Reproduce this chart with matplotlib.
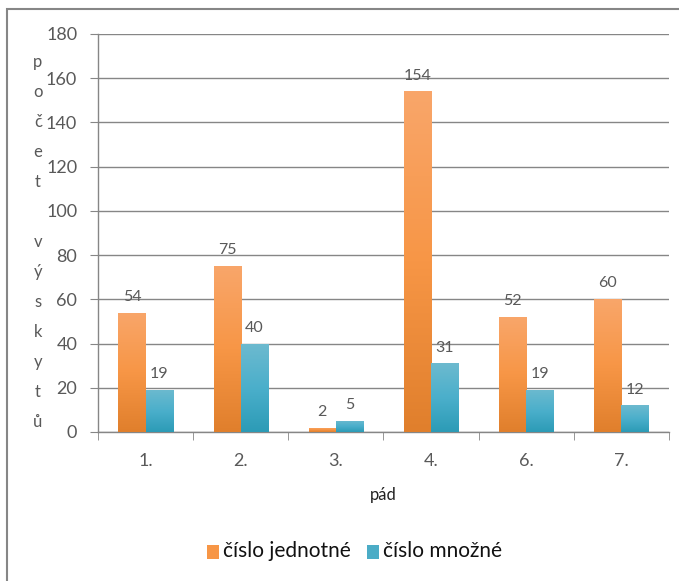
import numpy as np
import matplotlib
matplotlib.use("Agg")
import matplotlib.pyplot as plt
from matplotlib.patches import Rectangle
from matplotlib.colors import LinearSegmentedColormap

categories = ["1.", "2.", "3.", "4.", "6.", "7."]
singular = [54, 75, 2, 154, 52, 60]
plural = [19, 40, 5, 31, 19, 12]
series_names = ["číslo jednotné", "číslo množné"]
ylabel_letters = ["p", "o", "č", "e", "t", "", "v", "ý", "s", "k", "y", "t", "ů"]
xlabel = "pád"

plt.rcParams["font.family"] = ["Lato", "DejaVu Sans"]

W, H = 679, 581
fig = plt.figure(figsize=(W / 100, H / 100), dpi=100)
fig.patch.set_facecolor("white")

def fx(px):
    return px / W

def fy(py):
    return 1 - py / H

left, right, top, bottom = 98, 669, 34, 432
ax = fig.add_axes([fx(left), fy(bottom), fx(right - left), (bottom - top) / H])

gray = "#868686"
txt = "#595959"

x = np.arange(len(categories))
bw = 0.285
cm_or = LinearSegmentedColormap.from_list("o", ["#E07F2C", "#F79646", "#F9A66A"])
cm_te = LinearSegmentedColormap.from_list("t", ["#2C9BB6", "#4BAFCB", "#6DBACF"])

grad = np.linspace(0, 1, 256).reshape(-1, 1)

def gbars(xs, vals, cmap):
    bars = ax.bar(xs, vals, bw, color="none", edgecolor="none", zorder=3)
    for b in bars:
        x0, y0 = b.get_x(), b.get_y()
        w, h = b.get_width(), b.get_height()
        im = ax.imshow(grad, cmap=cmap, origin="lower", aspect="auto",
                       extent=[x0, x0 + w, y0, y0 + h], zorder=3)
        im.set_clip_path(b)
    return bars

b1 = gbars(x - bw / 2, singular, cm_or)
b2 = gbars(x + bw / 2, plural, cm_te)

for bars, vals in ((b1, singular), (b2, plural)):
    for b, v in zip(bars, vals):
        ax.text(b.get_x() + b.get_width() / 2, v + 4, str(v), ha="center",
                va="bottom", fontsize=11.5, color=txt)

ax.set_xlim(-0.5, len(categories) - 0.5)
ax.set_ylim(0, 180)
ax.set_yticks(np.arange(0, 181, 20))
ax.yaxis.grid(True, color=gray, linewidth=1)
ax.set_axisbelow(True)
for s in ["top", "right"]:
    ax.spines[s].set_visible(False)
for s in ["left", "bottom"]:
    ax.spines[s].set_color(gray)
    ax.spines[s].set_linewidth(1)
ax.tick_params(axis="y", colors=gray, labelcolor=txt, labelsize=13, length=6, pad=9)
ax.set_xticks(x)
ax.set_xticklabels(categories)
ax.tick_params(axis="x", length=0, labelcolor=txt, labelsize=13, pad=15)
ax.set_xticks(np.arange(-0.5, len(categories), 1), minor=True)
ax.tick_params(axis="x", which="minor", length=6, color=gray)

fig.text(fx(383), fy(495), xlabel, ha="center", va="center", fontsize=12, color="#222222")

y0 = 62
step = 30
for i, ch in enumerate(ylabel_letters):
    if ch:
        fig.text(fx(38), fy(y0 + i * step), ch, ha="center", va="center",
                 fontsize=12, color=txt)

# legend
fig.patches.append(Rectangle((fx(207), fy(559)), fx(12), 14 / H, transform=fig.transFigure,
                             facecolor="#F79646", edgecolor="none"))
fig.text(fx(223), fy(551), series_names[0], ha="left", va="center", fontsize=15, color="#111111")
fig.patches.append(Rectangle((fx(367), fy(559)), fx(12), 14 / H, transform=fig.transFigure,
                             facecolor="#4BACC6", edgecolor="none"))
fig.text(fx(383), fy(551), series_names[1], ha="left", va="center", fontsize=15, color="#111111")

# outer border
fig.patches.append(Rectangle((fx(7), -0.1), 1.2, fy(9) + 0.1, transform=fig.transFigure,
                             facecolor="none", edgecolor=gray, linewidth=1.5))

fig.savefig("out.png", dpi=100)
